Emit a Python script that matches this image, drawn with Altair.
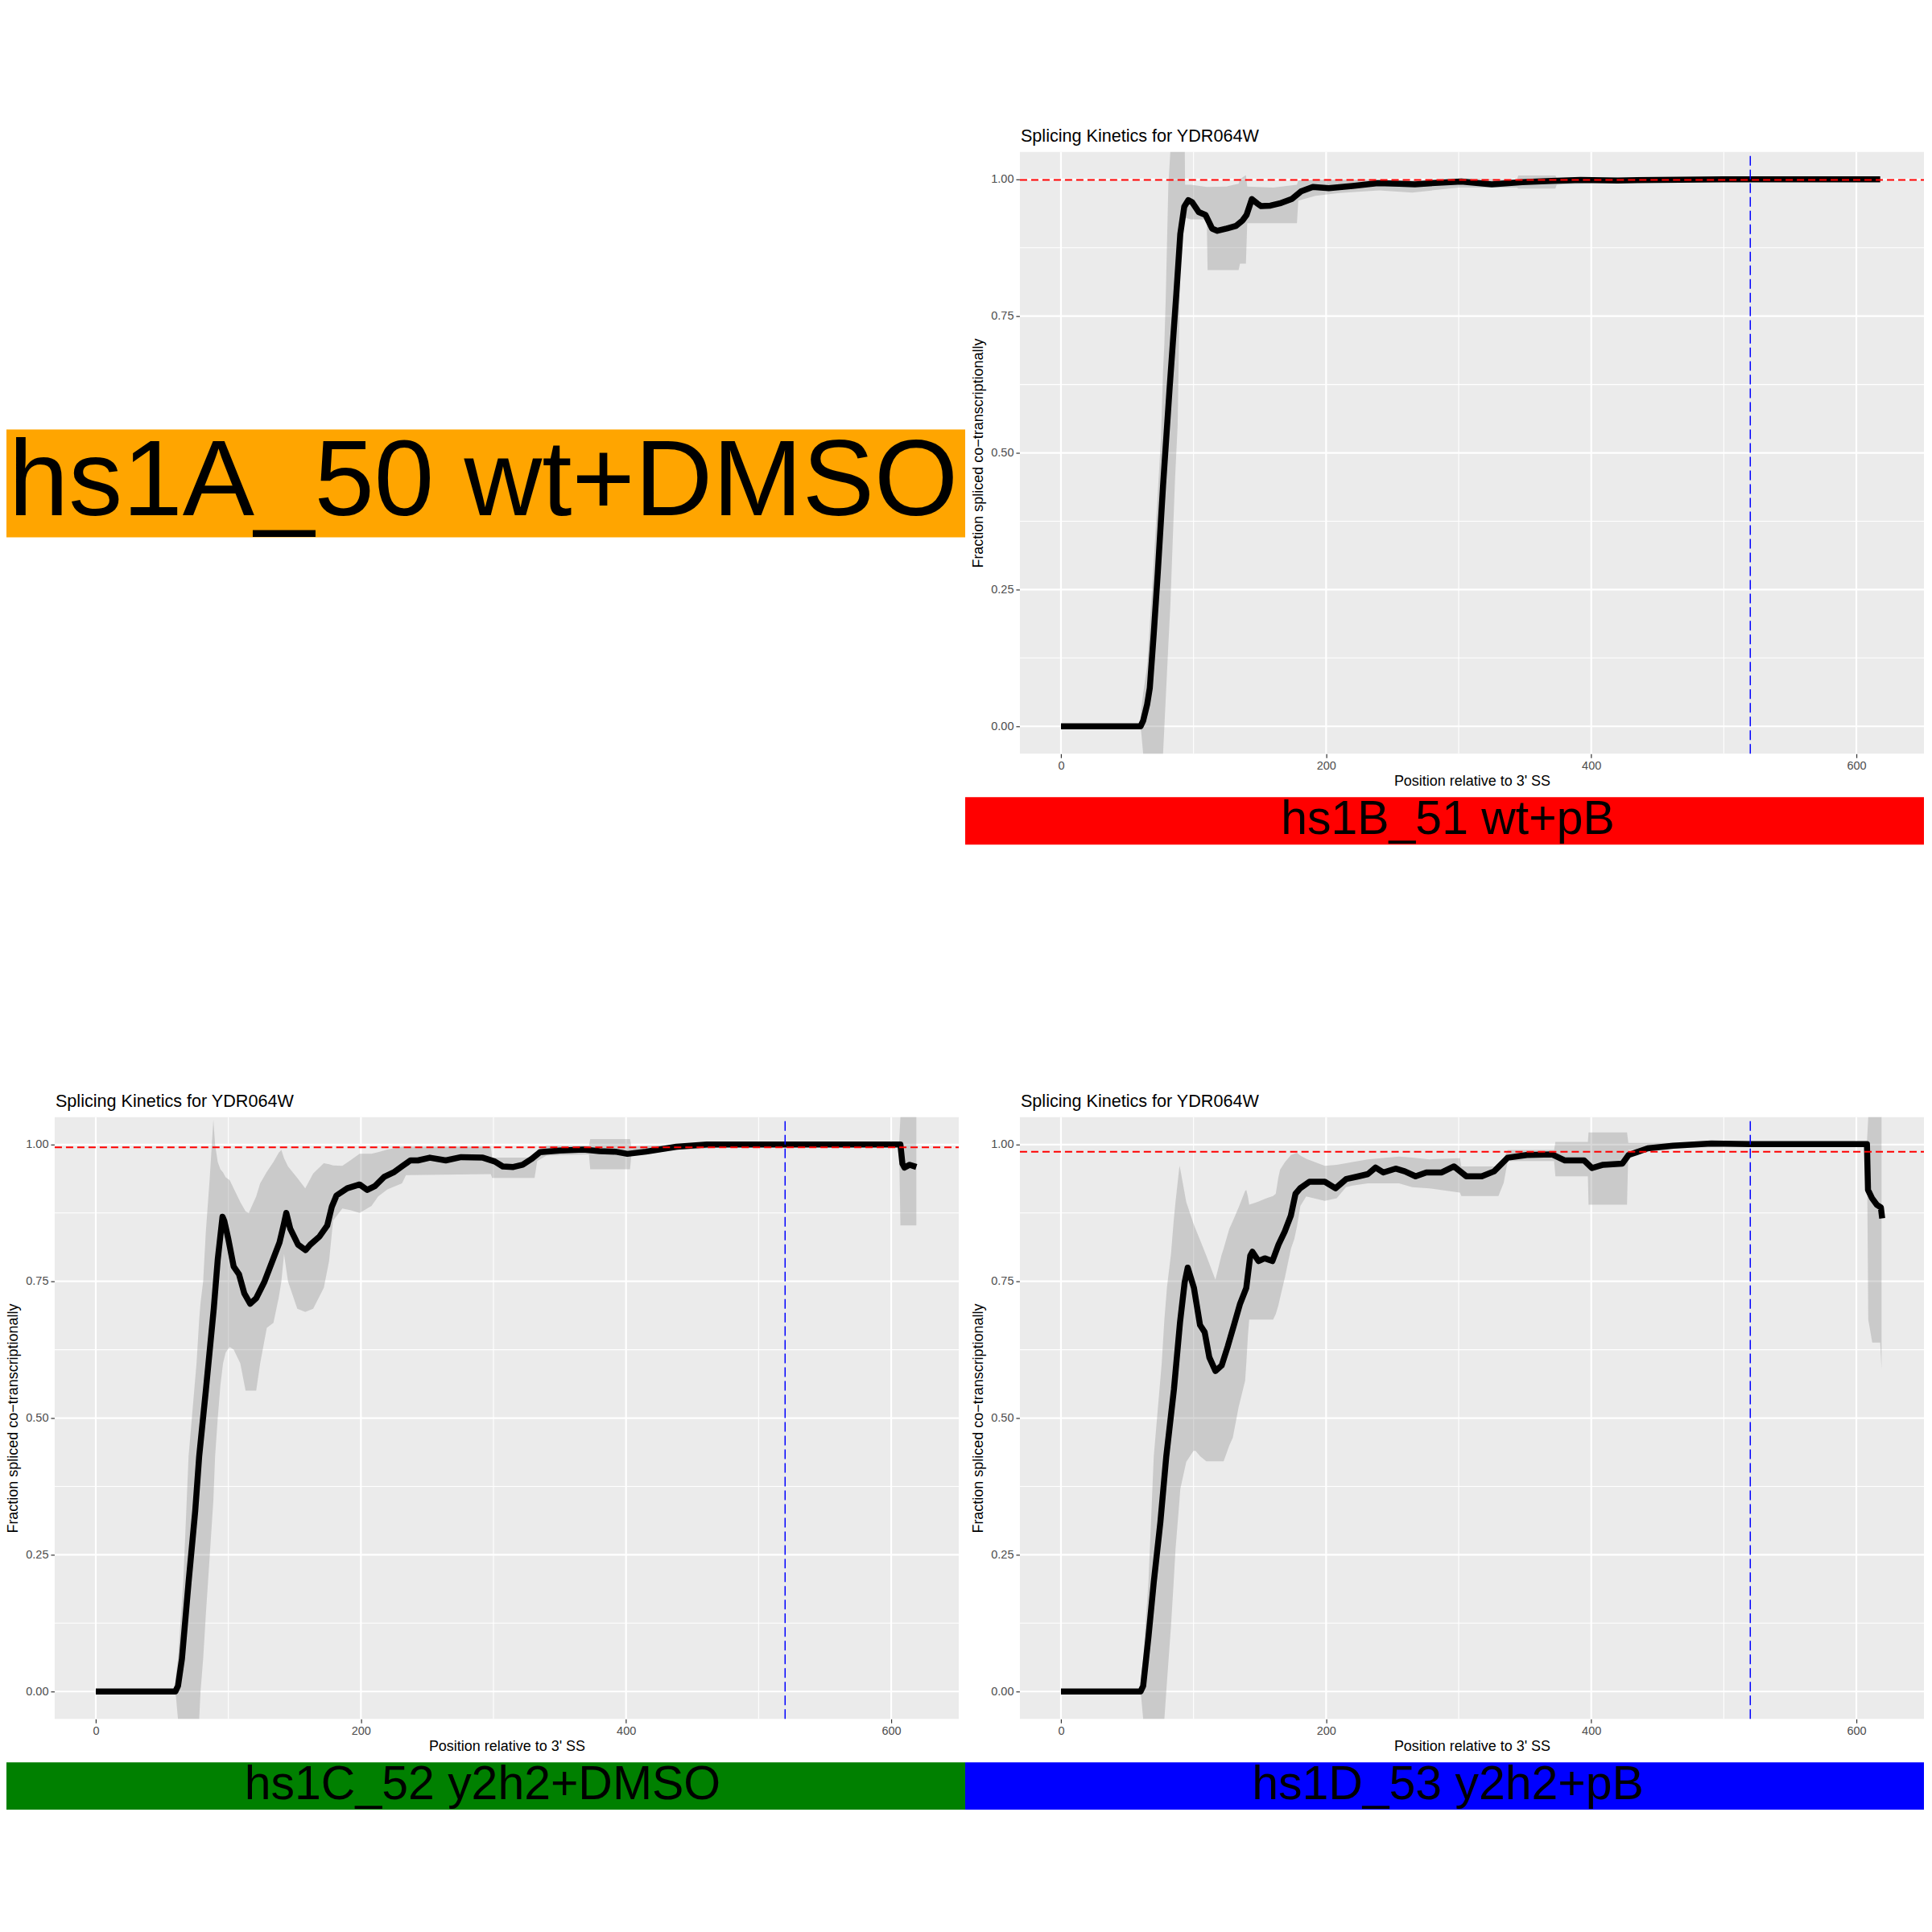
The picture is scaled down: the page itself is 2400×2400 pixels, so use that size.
import altair as alt
import pandas as pd

# ---------------- data ----------------
TITLE = "Splicing Kinetics for YDR064W"
X_TITLE = "Position relative to 3' SS"
Y_TITLE = "Fraction spliced co\u2212transcriptionally"
X_TICKS = [0, 200, 400, 600]
Y_TICKS = [0, 0.25, 0.5, 0.75, 1.0]
X_MINOR = [100, 300, 500]
Y_MINOR = [0.125, 0.375, 0.625, 0.875]
XLIM = [-31, 651]
YLIM = [-0.05, 1.05]
VLINE_X = 520

LABEL_A = "hs1A_50 wt+DMSO"
LABEL_B = "hs1B_51 wt+pB"
LABEL_C = "hs1C_52 y2h2+DMSO"
LABEL_D = "hs1D_53 y2h2+pB"
COLOR_A = "#FFA500"
COLOR_B = "#FF0000"
COLOR_C = "#008000"
COLOR_D = "#0000FF"

REF_B = 0.999
REF_C = 0.995
REF_D = 0.987

# panel B
B_x = [0, 60, 62, 65, 67, 70, 73, 77, 82, 87, 90, 93, 96, 99, 104, 109, 114, 118, 125, 132,
       137, 140, 144, 148, 151, 158, 165, 174, 181, 190, 202, 220, 239, 255, 267, 285, 302, 315, 325, 348,
       370, 392, 420, 450, 500, 560, 600, 618]
B_y = [0, 0, 0.01, 0.04, 0.07, 0.17, 0.28, 0.44, 0.62, 0.79, 0.90, 0.95, 0.962, 0.958, 0.94, 0.935, 0.91, 0.906, 0.91, 0.915,
       0.925, 0.935, 0.964, 0.956, 0.951, 0.952, 0.956, 0.964, 0.978, 0.986, 0.984, 0.988, 0.993, 0.992, 0.991, 0.994, 0.996, 0.993, 0.991, 0.995,
       0.997, 0.999, 0.998, 0.999, 1.0, 1.0, 1.0, 1.0]
B_rib_x = [0, 59.5, 60.5, 62, 65, 69.5, 75.5, 77, 78, 79, 81, 82.5, 84, 86, 88, 89.5, 90.5, 93.4, 93.6, 98,
           110, 110.6, 125, 134, 135, 139.5, 140.5, 160, 178, 179, 192, 210, 240, 265, 300, 344, 345, 373, 374, 420,
           500, 618]
B_rib_lo = [0, 0, -0.01, -0.05, -0.05, -0.05, -0.05, -0.05, 0.0, 0.05, 0.15, 0.22, 0.32, 0.45, 0.55, 0.78, 0.9, 0.93, 0.93, 0.927,
            0.927, 0.834, 0.834, 0.834, 0.846, 0.846, 0.92, 0.92, 0.92, 0.961, 0.97, 0.975, 0.98, 0.976, 0.985, 0.985, 0.983, 0.983, 0.99, 0.995,
            0.997, 0.998]
B_rib_hi = [0, 0, 0.03, 0.06, 0.11, 0.28, 0.53, 0.65, 0.7, 0.78, 0.99, 1.05, 1.05, 1.05, 1.05, 1.05, 1.05, 1.05, 0.99, 0.99,
            0.986, 0.986, 0.987, 0.992, 1.0, 1.008, 0.987, 0.985, 0.99, 0.998, 1.0, 1.0, 1.0, 0.998, 1.002, 1.0, 1.007, 1.007, 1.002, 1.002,
            1.002, 1.002]

# panel C
C_x = [0, 60, 62, 65, 70, 75, 78, 83, 89, 92, 95.6, 97, 100, 104, 108, 112, 116.5, 121, 127, 134,
       138.6, 142, 143.7, 146.7, 152.6, 158.3, 161.8, 168.8, 174.6, 178, 181.6, 189.7, 199, 204.8, 210.6, 217.6, 224.6, 231.5, 237.3, 243,
       252, 264, 275.6, 292, 301, 307, 315, 322, 329, 335, 350, 368, 380, 392, 401, 415, 438, 461, 500, 560,
       607, 608.5, 610, 614, 619]
C_y = [0, 0, 0.01, 0.06, 0.2, 0.33, 0.43, 0.55, 0.7, 0.79, 0.868, 0.86, 0.827, 0.777, 0.763, 0.728, 0.709, 0.719, 0.748, 0.792,
       0.821, 0.856, 0.875, 0.846, 0.817, 0.807, 0.817, 0.832, 0.852, 0.886, 0.907, 0.92, 0.927, 0.917, 0.924, 0.941, 0.949, 0.961, 0.971, 0.971,
       0.976, 0.971, 0.977, 0.976, 0.969, 0.96, 0.959, 0.963, 0.974, 0.986, 0.989, 0.991, 0.988, 0.987, 0.983, 0.987, 0.996, 1.0, 1.0, 1.0,
       1.0, 0.965, 0.958, 0.963, 0.959]
C_rib_x = [0, 59.5, 60.5, 62, 66, 70, 76, 78, 79, 81, 83, 86, 88.7, 90, 92, 94, 96, 98, 101, 104,
           109, 113, 115.4, 121, 124, 129, 134, 138, 140, 142, 145, 152, 158, 164, 172, 176, 179, 186, 192, 199,
           208, 213, 220, 231, 234, 298, 299, 331, 333, 340, 372, 373, 403, 404, 440, 500, 606, 607, 619]
C_rib_lo = [0, 0, -0.01, -0.05, -0.05, -0.05, -0.05, -0.05, 0.0, 0.06, 0.14, 0.25, 0.35, 0.43, 0.5, 0.56, 0.6, 0.62, 0.63, 0.625,
            0.6, 0.55, 0.55, 0.55, 0.6, 0.665, 0.674, 0.72, 0.75, 0.8, 0.75, 0.7, 0.694, 0.7, 0.738, 0.787, 0.861, 0.883, 0.88, 0.875,
            0.888, 0.905, 0.918, 0.929, 0.944, 0.946, 0.939, 0.939, 0.97, 0.98, 0.982, 0.955, 0.955, 0.98, 0.99, 0.998, 0.998, 0.852, 0.852]
C_rib_hi = [0, 0, 0.03, 0.06, 0.2, 0.43, 0.6, 0.68, 0.71, 0.75, 0.84, 0.94, 1.045, 1.0, 0.968, 0.955, 0.949, 0.94, 0.935, 0.92,
            0.895, 0.878, 0.875, 0.905, 0.929, 0.95, 0.968, 0.985, 0.99, 0.975, 0.96, 0.939, 0.92, 0.947, 0.966, 0.964, 0.962, 0.961, 0.971, 0.983,
            0.983, 0.986, 0.991, 0.996, 0.996, 0.996, 0.976, 0.976, 0.99, 0.998, 0.998, 1.01, 1.01, 0.997, 1.0, 1.002, 1.002, 1.05, 1.05]

# panel D
D_x = [0, 60, 62, 66, 70, 75, 79.4, 85.2, 89.8, 93.3, 95.6, 100.3, 104.9, 108.4, 111.9, 116.5, 121.2, 125.8, 130.5, 135.1,
       139.8, 142.8, 144.4, 149, 153.7, 159.5, 164.1, 168.8, 173.4, 176.9, 180.4, 187.4, 199, 207.1, 215.2, 224.5, 231.5, 237.3, 243.1, 252.4,
       259.4, 267.5, 275.6, 287.2, 296.5, 305.8, 317.4, 326.7, 337, 351.4, 370.6, 380.2, 394.6, 400.6, 409, 423.4, 428.2, 442.6, 461.8, 490.6,
       520, 560, 608, 608.8, 611.8, 615.4, 618.5, 619.5]
D_y = [0, 0, 0.01, 0.1, 0.2, 0.31, 0.429, 0.552, 0.675, 0.748, 0.775, 0.738, 0.67, 0.657, 0.611, 0.586, 0.596, 0.631, 0.67, 0.709,
       0.738, 0.797, 0.804, 0.787, 0.792, 0.787, 0.817, 0.841, 0.87, 0.91, 0.92, 0.932, 0.932, 0.92, 0.937, 0.942, 0.946, 0.958, 0.949, 0.956,
       0.951, 0.942, 0.949, 0.949, 0.96, 0.942, 0.942, 0.951, 0.976, 0.981, 0.982, 0.971, 0.971, 0.957, 0.963, 0.965, 0.981, 0.993, 0.998, 1.002,
       1.001, 1.001, 1.001, 0.917, 0.902, 0.89, 0.885, 0.865]
D_rib_x = [0, 59.5, 60.5, 62, 66, 70, 76, 78, 80, 83, 85, 86.4, 89.4, 90, 94.5, 100, 101.5, 105, 109.6, 116.5,
           121, 122.7, 127, 129.6, 134, 138.9, 139.8, 141, 142, 148, 155, 160, 162, 164, 165.3, 169, 173.5, 176, 178, 180.6,
           185, 199, 208, 215, 220, 231.5, 255, 265, 278, 301, 302, 330, 334, 337, 372, 373, 397.5, 398, 427, 428,
           450, 500, 608, 609, 612, 618, 619]
D_rib_lo = [0, 0, -0.01, -0.05, -0.05, -0.05, -0.05, -0.05, 0.02, 0.12, 0.2, 0.26, 0.35, 0.37, 0.42, 0.44, 0.44, 0.43, 0.421, 0.421,
            0.421, 0.421, 0.45, 0.464, 0.52, 0.568, 0.6, 0.65, 0.68, 0.68, 0.68, 0.68, 0.69, 0.706, 0.72, 0.758, 0.81, 0.827, 0.85, 0.888,
            0.905, 0.897, 0.902, 0.922, 0.925, 0.929, 0.929, 0.922, 0.92, 0.912, 0.906, 0.906, 0.93, 0.97, 0.97, 0.942, 0.942, 0.89, 0.89, 0.99,
            0.992, 0.996, 0.997, 0.68, 0.638, 0.638, 0.59]
D_rib_hi = [0, 0, 0.03, 0.06, 0.2, 0.43, 0.6, 0.68, 0.74, 0.8, 0.86, 0.895, 0.961, 0.955, 0.895, 0.855, 0.846, 0.825, 0.797, 0.753,
            0.797, 0.81, 0.846, 0.86, 0.885, 0.915, 0.917, 0.905, 0.89, 0.895, 0.902, 0.906, 0.91, 0.94, 0.954, 0.968, 0.981, 0.983, 0.985, 0.98,
            0.974, 0.961, 0.963, 0.966, 0.968, 0.973, 0.978, 0.976, 0.973, 0.975, 0.96, 0.96, 0.975, 0.99, 0.99, 1.005, 1.005, 1.022, 1.022, 1.003,
            1.003, 1.004, 1.004, 1.05, 1.05, 1.05, 1.05]

# ---------------- layout / style ----------------
FONT = "Liberation Sans"
COL_X0 = [0, 1200]      # reference column origin (page px)
COL_OX = [8, 1200]      # page px of the cell's local origin
COL_W = [1192, 1192]    # total 2384 = page width minus body margins
ROW_Y0 = [0, 1200]
ROW_OY = [8, 1200]
ROW_H = [1192, 1192]
P_LEFT, P_RIGHT, P_TOP, P_BOTTOM = 68, 1192, 188, 936


def panel_cell(line_x, line_y, rib_x, rib_lo, rib_hi, ref_y, label, strip_color, col, row):
    X0, ox, cw = COL_X0[col], COL_OX[col], COL_W[col]
    Y0, oy, ch = ROW_Y0[row], ROW_OY[row], ROW_H[row]
    kx = (P_RIGHT - P_LEFT) / (XLIM[1] - XLIM[0])
    ky = (P_BOTTOM - P_TOP) / (YLIM[1] - YLIM[0])
    pl = X0 + P_LEFT - ox
    pr = X0 + P_RIGHT - ox
    pt = Y0 + P_TOP - oy
    pb = Y0 + P_BOTTOM - oy
    x_lo = XLIM[0] - pl / kx
    xs = alt.Scale(domain=[x_lo, x_lo + cw / kx], nice=False, zero=False)
    y_hi = YLIM[1] + pt / ky
    ys = alt.Scale(domain=[y_hi - ch / ky, y_hi], nice=False, zero=False)

    xaxis = alt.Axis(values=X_TICKS, grid=False, domain=False, tickSize=5, tickWidth=1.2,
                     tickColor="#333333", labelFont=FONT, labelFontSize=14.5, labelColor="#4D4D4D",
                     labelPadding=3, labelFlush=False, labelOverlap=False, labelBound=False,
                     title=X_TITLE, titleFont=FONT, titleFontSize=18, titleFontWeight="normal",
                     titleColor="black", titleX=(pl + pr) / 2, titleY=34, titleAlign="center",
                     titleBaseline="middle", offset=-(ch - pb))
    yaxis = alt.Axis(values=Y_TICKS, format=".2f", grid=False, domain=False, tickSize=5, tickWidth=1.2,
                     tickColor="#333333", labelFont=FONT, labelFontSize=14.5, labelColor="#4D4D4D",
                     labelPadding=3, labelFlush=False, labelOverlap=False, labelBound=False,
                     title=Y_TITLE, titleFont=FONT, titleFontSize=18, titleFontWeight="normal",
                     titleColor="black", titleAngle=270, titleX=17 - P_LEFT, titleY=(pt + pb) / 2,
                     titleAlign="center", titleBaseline="middle", offset=-pl)
    X = alt.X("x:Q", scale=xs, axis=xaxis)
    Y = alt.Y("y:Q", scale=ys, axis=yaxis)

    bg = alt.Chart(pd.DataFrame({"x": [XLIM[0]], "x2": [XLIM[1]], "y": [YLIM[0]], "y2": [YLIM[1]]})).mark_rect(
        color="#EBEBEB").encode(x=X, x2="x2:Q", y=Y, y2="y2:Q")

    def vgrid(vals, w):
        df = pd.DataFrame({"x": vals, "y": [YLIM[0]] * len(vals), "y2": [YLIM[1]] * len(vals)})
        return alt.Chart(df).mark_rule(color="white", strokeWidth=w).encode(x=X, y=Y, y2="y2:Q")

    def hgrid(vals, w):
        df = pd.DataFrame({"y": vals, "x": [XLIM[0]] * len(vals), "x2": [XLIM[1]] * len(vals)})
        return alt.Chart(df).mark_rule(color="white", strokeWidth=w).encode(y=Y, x=X, x2="x2:Q")

    rib = alt.Chart(pd.DataFrame({"x": rib_x, "y": rib_lo, "y2": rib_hi})).mark_area(
        color="#7F7F7F", opacity=0.3).encode(x=X, y=Y, y2="y2:Q")
    line = alt.Chart(pd.DataFrame({"x": line_x, "y": line_y})).mark_line(
        color="black", strokeWidth=7.5, strokeCap="butt", strokeJoin="round").encode(x=X, y=Y)
    href = alt.Chart(pd.DataFrame({"y": [ref_y], "x": [XLIM[0]], "x2": [XLIM[1]]})).mark_rule(
        color="#FF0000", strokeWidth=2, strokeDash=[9, 5]).encode(y=Y, x=X, x2="x2:Q")
    vref = alt.Chart(pd.DataFrame({"x": [VLINE_X], "y": [YLIM[0]], "y2": [YLIM[1]]})).mark_rule(
        color="#0000FF", strokeWidth=1.5, strokeDash=[12, 5]).encode(x=X, y=Y, y2="y2:Q")

    title = alt.Chart(pd.DataFrame({"t": [TITLE]})).mark_text(
        font=FONT, fontSize=21.6, align="left", baseline="alphabetic", color="black").encode(
        text="t:N", x=alt.value(pl + 1), y=alt.value(Y0 + 175 - oy))
    strip = alt.Chart(pd.DataFrame({"t": [label]})).mark_rect(color=strip_color).encode(
        x=alt.value(max(0, X0 - ox)), x2=alt.value(min(cw, X0 + 1200 - ox)),
        y=alt.value(Y0 + 990 - oy), y2=alt.value(Y0 + 1049 - oy))
    strip_text = alt.Chart(pd.DataFrame({"t": [label]})).mark_text(
        font=FONT, fontSize=59, align="center", baseline="alphabetic", color="black").encode(
        text="t:N", x=alt.value(X0 + 600 - ox), y=alt.value(Y0 + 1036 - oy))

    return alt.layer(bg, vgrid(X_MINOR, 1.1), hgrid(Y_MINOR, 1.1), vgrid(X_TICKS, 2.2), hgrid(Y_TICKS, 2.2),
                     rib, line, href, vref, title, strip, strip_text).properties(width=cw, height=ch)


def label_cell(label, color, col, row):
    X0, ox, cw = COL_X0[col], COL_OX[col], COL_W[col]
    Y0, oy, ch = ROW_Y0[row], ROW_OY[row], ROW_H[row]
    df = pd.DataFrame({"t": [label]})
    bar = alt.Chart(df).mark_rect(color=color).encode(
        x=alt.value(max(0, X0 - ox)), x2=alt.value(min(cw, X0 + 1200 - ox)),
        y=alt.value(Y0 + 533 - oy), y2=alt.value(Y0 + 667 - oy))
    txt = alt.Chart(df).mark_text(font=FONT, fontSize=134, align="center", baseline="alphabetic",
                                  color="black").encode(
        text="t:N", x=alt.value(X0 + 601 - ox), y=alt.value(Y0 + 640 - oy))
    return alt.layer(bar, txt).properties(width=cw, height=ch)


cellA = label_cell(LABEL_A, COLOR_A, 0, 0)
cellB = panel_cell(B_x, B_y, B_rib_x, B_rib_lo, B_rib_hi, REF_B, LABEL_B, COLOR_B, 1, 0)
cellC = panel_cell(C_x, C_y, C_rib_x, C_rib_lo, C_rib_hi, REF_C, LABEL_C, COLOR_C, 0, 1)
cellD = panel_cell(D_x, D_y, D_rib_x, D_rib_lo, D_rib_hi, REF_D, LABEL_D, COLOR_D, 1, 1)

chart = alt.concat(cellA, cellB, cellC, cellD, columns=2, spacing=0, bounds="flush", align="each").properties(
    padding=0, background="white").configure_view(strokeWidth=0)

chart.save("out.html", embed_options={"renderer": "svg", "actions": False})
